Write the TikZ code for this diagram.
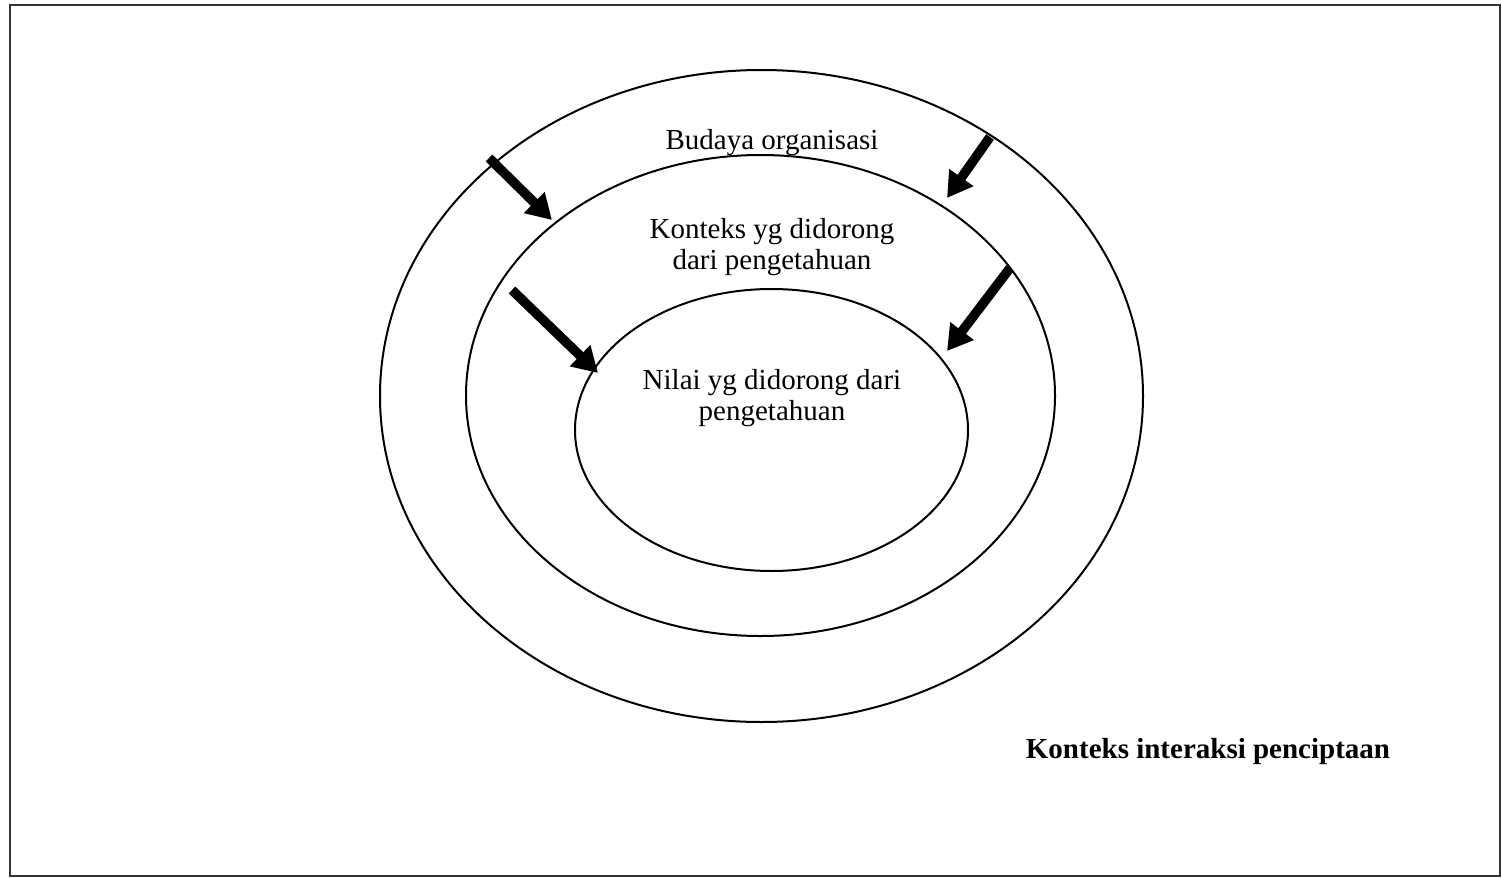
\documentclass[tikz,border=0pt]{standalone}
\usepackage{fontspec}
\setmainfont{Liberation Serif}
\usetikzlibrary{arrows.meta,shapes.geometric}
\begin{document}
\begin{tikzpicture}[x=1pt,y=-1pt,
  ring/.style={draw, line width=2pt, ellipse, inner sep=0pt},
  push/.style={line width=9.5pt, -{Triangle[width=28pt,length=25pt]}},
  lbl/.style={align=center, font=\fontsize{29}{31}\selectfont, inner sep=0pt}]
  \useasboundingbox (0,0) rectangle (1502,878);
  % frame
  \draw[line width=2pt, black!80] (9.5,5) rectangle (1500,876);
  % nested rings
  \node[ring, minimum width=763pt, minimum height=652pt] (outer) at (761.5,396) {};
  \node[ring, minimum width=589pt, minimum height=481pt] (middle) at (760.5,395.5) {};
  \node[ring, minimum width=393pt, minimum height=282pt] (inner) at (771.5,430) {};
  % labels
  \node[lbl] (budaya) at (772,143) {Budaya organisasi};
  \node[lbl] (konteks) at (772,247) {Konteks yg didorong\\dari pengetahuan};
  \node[lbl] (nilai) at (772,398) {Nilai yg didorong dari\\pengetahuan};
  \node[lbl, font=\fontsize{29}{31}\selectfont\bfseries] (interaksi) at (1208,752) {Konteks interaksi penciptaan};
  % arrow end points
  \coordinate (a1s) at (489,158);  \coordinate (a1e) at (552,220);
  \coordinate (a2s) at (990,137);  \coordinate (a2e) at (947,198);
  \coordinate (a3s) at (512,290);  \coordinate (a3e) at (598,373);
  \coordinate (a4s) at (1010,268); \coordinate (a4e) at (947,351);
  \draw[push] (a1s) -- (a1e);
  \draw[push] (a2s) -- (a2e);
  \draw[push] (a3s) -- (a3e);
  \draw[push] (a4s) -- (a4e);
\end{tikzpicture}
\end{document}
